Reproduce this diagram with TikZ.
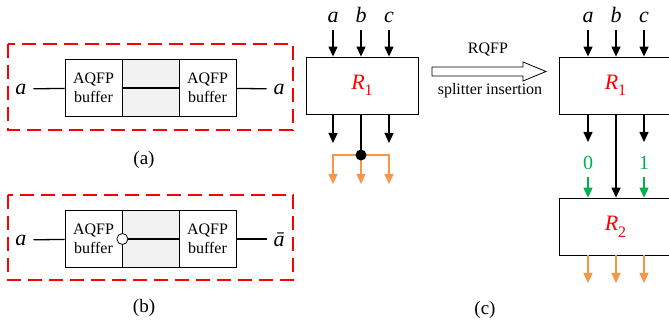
\documentclass[tikz,border=0pt]{standalone}
\usepackage{fontspec}
\setmainfont{Liberation Serif}
\usepackage{xcolor}
\usetikzlibrary{arrows.meta}

\definecolor{fanorange}{RGB}{247,150,70}
\definecolor{constgreen}{RGB}{0,176,80}
\newcommand{\sig}[1]{\textit{#1}}
\newcommand{\gate}[1]{\textit{R}\raisebox{-0.3em}{\fontsize{16}{16}\selectfont #1}}

\begin{document}
\begin{tikzpicture}[
    x=1pt, y=-1pt,
    font=\fontsize{16}{19.5}\selectfont,
    buf/.style={draw, minimum width=57pt, minimum height=57pt, inner sep=0pt, align=center, line width=0.8pt},
    gapbox/.style={buf, fill=gray!10},
    frame/.style={draw=red, line width=1.8pt, dash pattern=on 14pt off 7pt},
    wire/.style={line width=1.3pt},
    arr/.style={wire, -{Triangle[length=10pt,width=9pt]}},
    fanarr/.style={arr, line width=1.2pt, color=fanorange},
    constarr/.style={arr, line width=1.2pt, color=constgreen},
    lbl/.style={font=\fontsize{22}{22}\selectfont, inner sep=0pt, outer sep=7pt},
    const/.style={lbl, font=\fontsize{20}{20}\selectfont, text=constgreen},
    block/.style={draw, minimum height=57pt, line width=0.8pt, text=red, font=\fontsize{22}{22}\selectfont},
    dot/.style={circle, fill=black, inner sep=0pt, minimum size=11pt},
    inv/.style={circle, draw, fill=white, inner sep=0pt, minimum size=11pt, line width=0.8pt},
    capt/.style={font=\fontsize{19}{19}\selectfont}
]
\useasboundingbox (0,0) rectangle (669,328);
\clip (0,0) rectangle (669,328);

% (a) two buffers
\draw[frame] (8,44) rectangle (293,130);
\node[buf] (a1) at (93.5,88) {AQFP\\buffer};
\node[gapbox] (a2) at (150.5,88) {};
\node[buf] (a3) at (207.5,88) {AQFP\\buffer};
\node[lbl] (ain) at (21,89) {\sig{a}};
\node[lbl] (aout) at (279,89) {\sig{a}};
\draw[wire] (ain) -- (a1);
\draw[wire] (a1) -- (a3);
\draw[wire] (a3) -- (aout);
\node[capt] (capa) at (144,160) {(a)};

% (b) buffer with inverted output
\draw[frame] (8,195) rectangle (293,280);
\node[buf] (b1) at (93.5,239) {AQFP\\buffer};
\node[gapbox] (b2) at (150.5,239) {};
\node[buf] (b3) at (207.5,239) {AQFP\\buffer};
\node[lbl] (bin) at (21,240) {\sig{a}};
\node[lbl] (bout) at (279,240) {\sig{ā}};
\draw[wire] (bin) -- (b1);
\draw[wire] (b1.east) -- (b3);
\node[inv] (bn) at (b1.east) {};
\draw[wire] (b3.east) -- (b3.east -| bout.west);
\node[capt] (capb) at (144,308) {(b)};

% (c) left: R1 with fan-out
\node[block, minimum width=112pt] (r1) at (362,85.5) {\gate{1}};
\node[lbl, anchor=base] (ia) at (333,23) {\sig{a}};
\node[lbl, anchor=base] (ib) at (361,23) {\sig{b}};
\node[lbl, anchor=base] (ic) at (389,23) {\sig{c}};
\foreach \n in {ia,ib,ic}
    \draw[arr] (\n.south) -- (\n.south |- r1.north);
\coordinate (oa) at (333,143);
\coordinate (oc) at (389,143);
\draw[arr] (oa |- r1.south) -- (oa);
\draw[arr] (oc |- r1.south) -- (oc);
\coordinate (fan) at (361,155);
\draw[wire] (fan |- r1.south) -- (fan);
\coordinate (fa) at (333,184);
\coordinate (fb) at (361,184);
\coordinate (fc) at (389,184);
\draw[fanarr] (fan) -| (fa);
\draw[fanarr] (fan) -| (fc);
\draw[fanarr] (fan) -- (fb);
\node[dot] (fandot) at (fan) {};

% transformation arrow
\draw[line width=0.8pt] (432,67) -- (523,67) -- (523,62) -- (546,71.5) -- (523,81) -- (523,76) -- (432,76) -- cycle;
\node (rqfp) at (488,50) {RQFP};
\node (ins) at (490,91) {splitter insertion};

% (c) right: R1 feeding R2
\node[block, minimum width=113pt] (s1) at (615.5,85.5) {\gate{1}};
\node[block, minimum width=113pt] (s2) at (615.5,226.5) {\gate{2}};
\node[lbl, anchor=base] (ja) at (588,23) {\sig{a}};
\node[lbl, anchor=base] (jb) at (616,23) {\sig{b}};
\node[lbl, anchor=base] (jc) at (644,23) {\sig{c}};
\foreach \n in {ja,jb,jc}
    \draw[arr] (\n.south) -- (\n.south |- s1.north);
\coordinate (pa) at (588,142);
\coordinate (pc) at (644,142);
\draw[arr] (pa |- s1.south) -- (pa);
\draw[arr] (pc |- s1.south) -- (pc);
\draw[arr] (jb.south |- s1.south) -- (jb.south |- s2.north);
\node[const] (k0) at (588,163) {0};
\node[const] (k1) at (644,163) {1};
\draw[constarr] (k0) -- (k0 |- s2.north);
\draw[constarr] (k1) -- (k1 |- s2.north);
\foreach \x/\n in {588/qa,616/qb,644/qc} {
    \coordinate (\n) at (\x,283);
    \draw[fanarr] (\n |- s2.south) -- (\n);
}
\node[capt] (capc) at (485,310) {(c)};

\end{tikzpicture}
\end{document}
